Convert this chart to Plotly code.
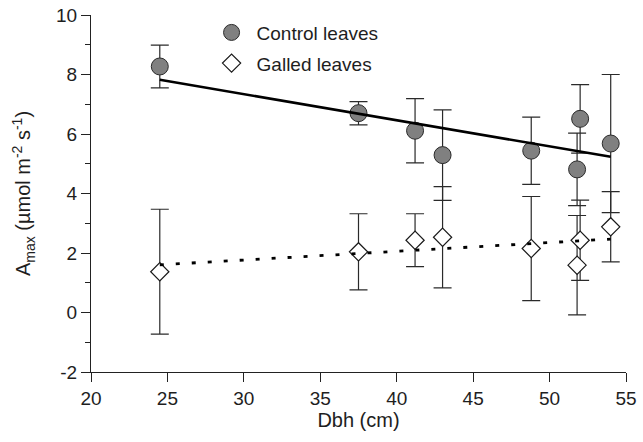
import numpy as np
import plotly.graph_objects as go

# Data
dbh = [24.5, 37.5, 41.2, 43.0, 48.8, 51.8, 52.0, 54.0]
control_amax = [8.27, 6.70, 6.11, 5.29, 5.44, 4.81, 6.51, 5.68]
control_err = [0.72, 0.39, 1.08, 1.52, 1.13, 1.22, 1.15, 2.32]
galled_amax = [1.37, 2.04, 2.43, 2.53, 2.15, 1.59, 2.43, 2.88]
galled_err = [2.10, 1.28, 0.89, 1.70, 1.75, 1.67, 1.35, 1.18]

x_ticks = [20, 25, 30, 35, 40, 45, 50, 55]
y_ticks = [-2, 0, 2, 4, 6, 8, 10]
y_tick_labels = ["-2", "0", "2", "4", "6", "8", "10"]

FONT = "Liberation Sans, Arial, Helvetica, sans-serif"
TXT = "#1e1e1e"

# Linear fits
xfit = np.array([min(dbh), max(dbh)])
pc = np.polyfit(dbh, control_amax, 1)
pg = np.polyfit(dbh, galled_amax, 1)

fig = go.Figure()

fig.add_trace(go.Scatter(
    x=dbh, y=control_amax, mode="markers", name="Control leaves",
    legendgroup="c",
    marker=dict(symbol="circle", size=17, color="#808080",
                line=dict(color="#2a2a2a", width=1)),
    error_y=dict(type="data", array=control_err, visible=True,
                 color="#2a2a2a", thickness=1.2, width=9),
))
fig.add_trace(go.Scatter(
    x=dbh, y=galled_amax, mode="markers", name="Galled leaves",
    legendgroup="g",
    marker=dict(symbol="diamond", size=14, color="white",
                line=dict(color="#1a1a1a", width=1.2)),
    error_y=dict(type="data", array=galled_err, visible=True,
                 color="#2a2a2a", thickness=1.2, width=9),
))
fig.add_trace(go.Scatter(
    x=xfit, y=np.polyval(pc, xfit), mode="lines", showlegend=False,
    line=dict(color="black", width=2.6),
))
fig.add_trace(go.Scatter(
    x=xfit, y=np.polyval(pg, xfit), mode="lines", showlegend=False,
    line=dict(color="black", width=2.8, dash="4px,12px"),
))

axis_common = dict(
    showline=True, linecolor="#222", linewidth=1.2,
    showgrid=False, zeroline=False, ticks="outside",
    ticklen=9, tickwidth=1.2, tickcolor="#222", automargin=False,
    tickfont=dict(family=FONT, size=19, color=TXT),
)

fig.update_layout(
    width=643, height=442,
    margin=dict(l=91, r=17, t=15, b=70),
    paper_bgcolor="white", plot_bgcolor="white",
    font=dict(family=FONT, size=19, color=TXT),
    xaxis=dict(range=[20, 55], tickvals=x_ticks,
               title=dict(text="Dbh (cm)", font=dict(family=FONT, size=20, color=TXT), standoff=5),
               **axis_common),
    yaxis=dict(range=[-2, 10], tickvals=y_ticks, ticktext=y_tick_labels,
               minor=dict(dtick=1, ticklen=5, tickwidth=1.2, tickcolor="#222", ticks="outside"),
               title=dict(text="A<sub>max</sub> (µmol m<sup>-2</sup> s<sup>-1</sup>)",
                          font=dict(family=FONT, size=20, color=TXT), standoff=19),
               **axis_common),
    legend=dict(x=0.216, y=1.004, xanchor="left", yanchor="top",
                bgcolor="rgba(0,0,0,0)", borderwidth=0, itemwidth=40,
                font=dict(family=FONT, size=19, color=TXT),
                traceorder="grouped", tracegroupgap=3),
    showlegend=True,
)

fig.write_html("out.html", config={"displayModeBar": False},
               post_script="document.body.style.margin='0';")
